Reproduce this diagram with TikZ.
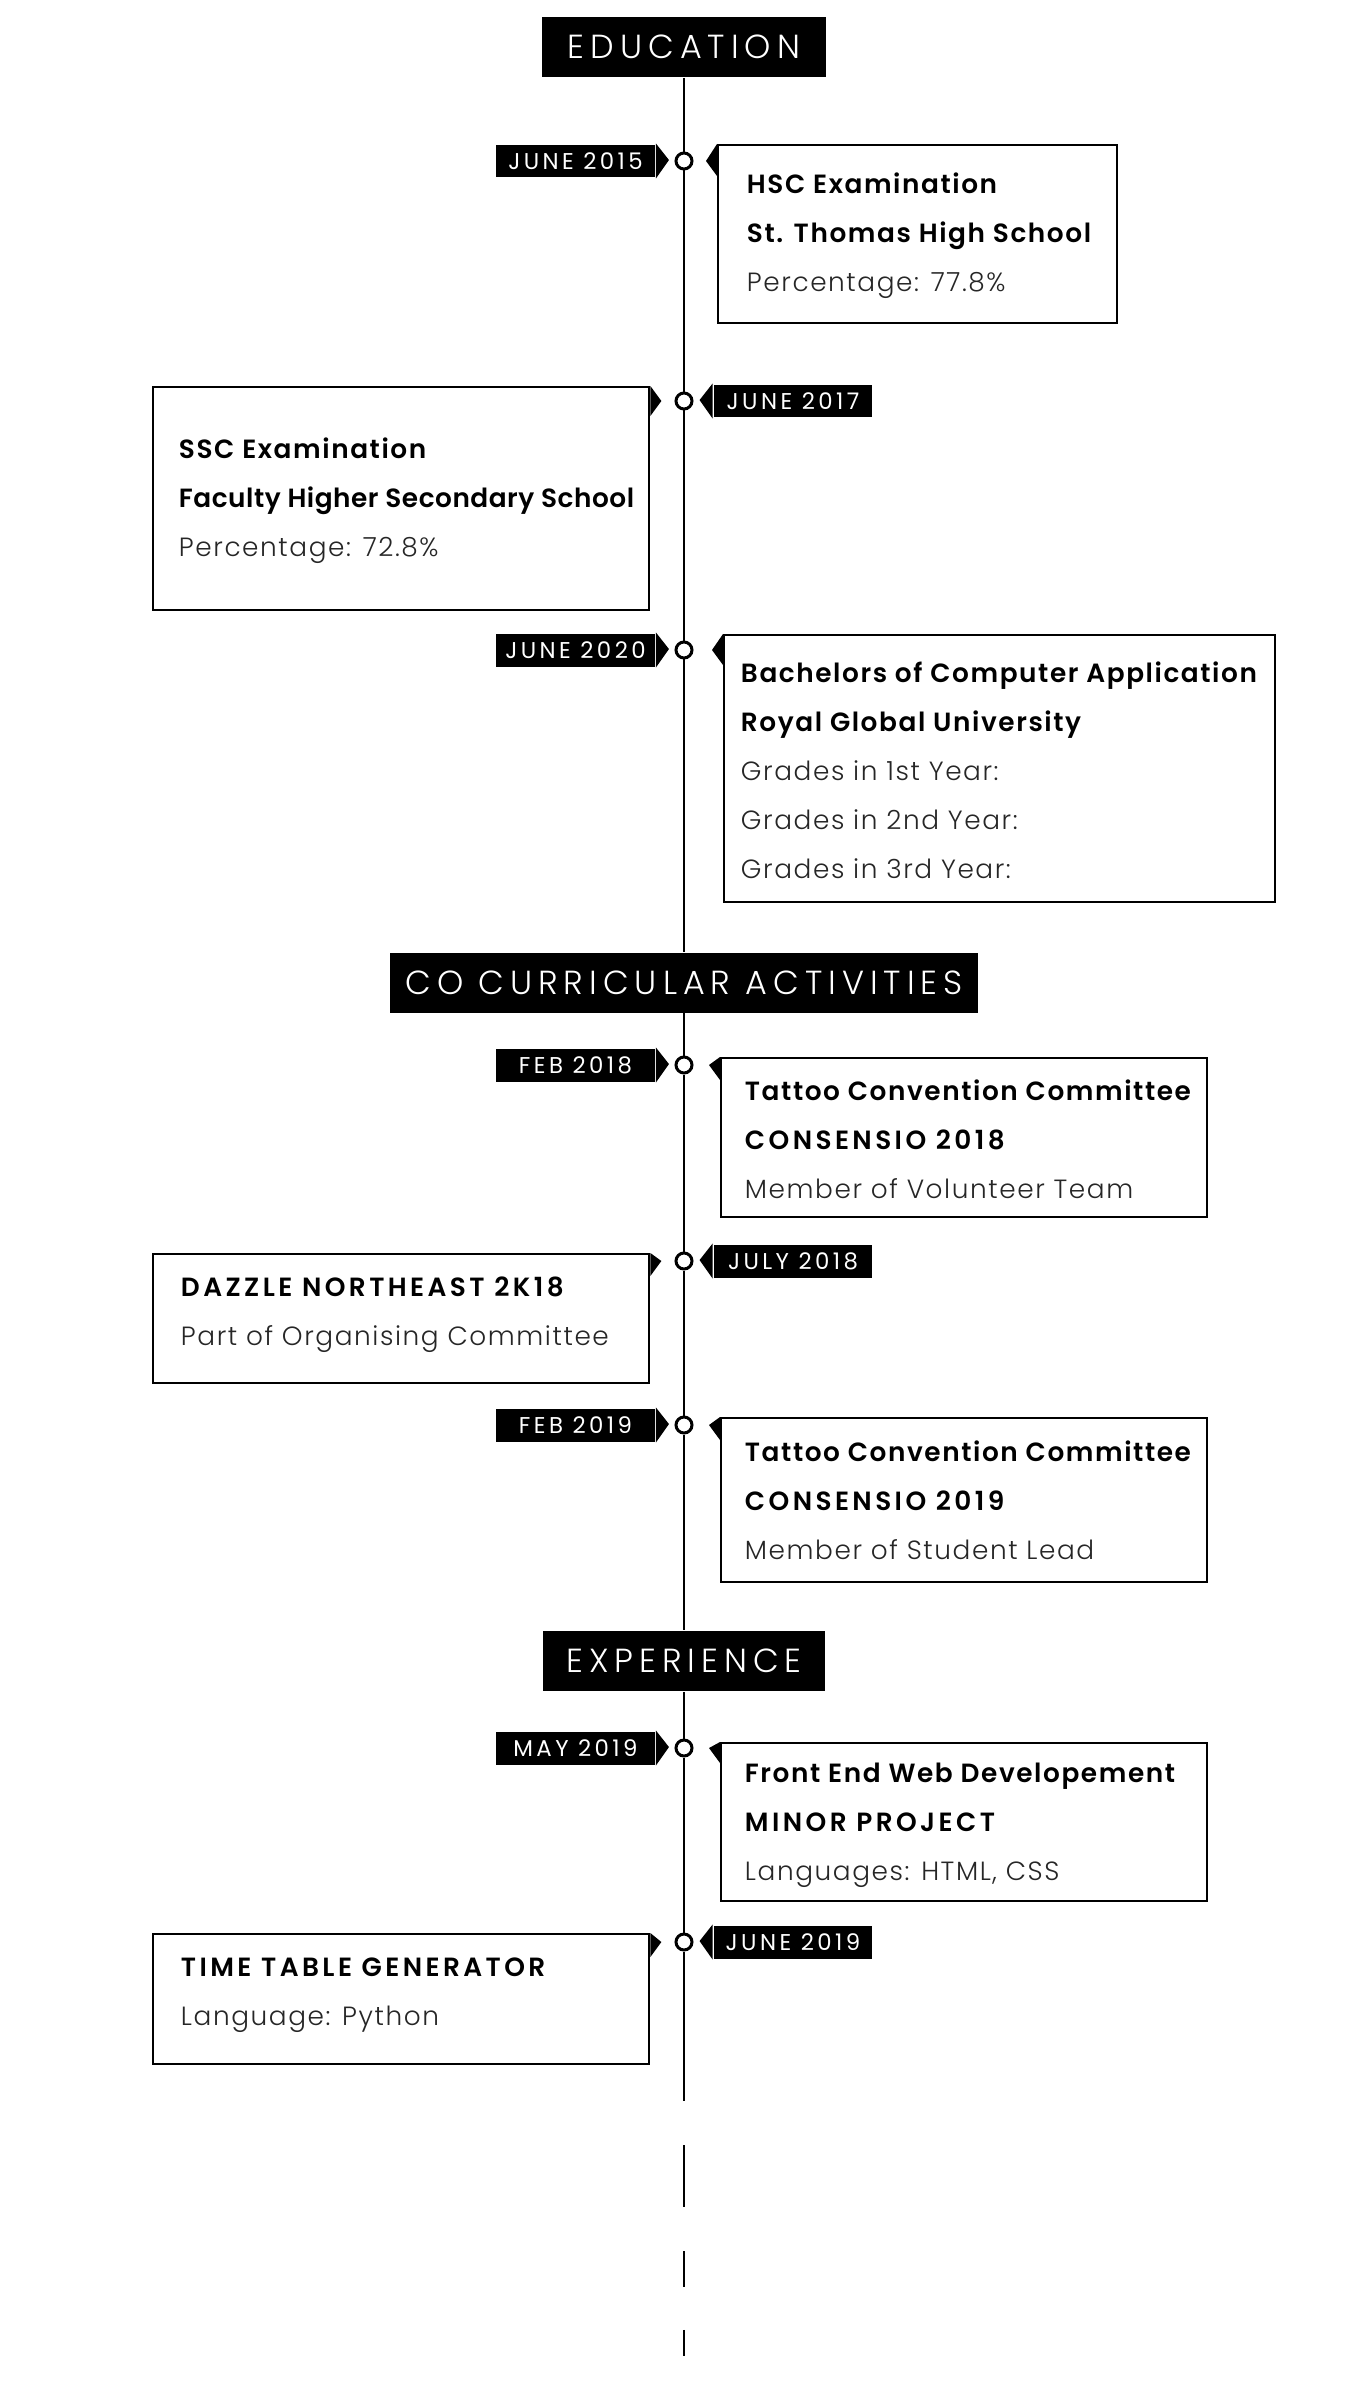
\documentclass[tikz,border=0pt]{standalone}
\usepackage{fontspec}
\setmainfont{Poppins}[UprightFont={* Light},BoldFont={* SemiBold}]
\newfontfamily\tagfont{Poppins}
\usetikzlibrary{calc}
\newcommand\lite[1]{{\color{black!85}#1}}
\newcommand\wide[1]{{\addfontfeatures{LetterSpace=13}#1}}
\newcommand\narrow[1]{{\addfontfeatures{LetterSpace=2}#1}}

\begin{document}
\begin{tikzpicture}[x=0.02cm,y=-0.02cm,line width=1.1pt,
	header/.style={fill=black,text=white,minimum height=1.2cm,inner sep=0pt,
		font=\fontsize{19}{21}\selectfont\addfontfeatures{LetterSpace=18}},
	datetag/.style={fill=black,text=white,minimum width=3.18cm,minimum height=0.66cm,inner sep=0pt,
		font=\tagfont\fontsize{13}{15}\selectfont\addfontfeatures{LetterSpace=15}},
	dot/.style={draw,circle,fill=white,minimum size=0.32cm,inner sep=0pt,line width=1.7pt},
	card/.style={draw,line width=1.4pt,inner sep=0pt,anchor=north west},
	info/.style={anchor=west,align=left,inner sep=0pt,
		font=\fontsize{15}{27.9}\selectfont\addfontfeatures{LetterSpace=6}}]
			\useasboundingbox (0,0) rectangle (1366,2406);
			\node [header,minimum width=5.68cm] (edu) at (684,47) {EDUCATION};
			\node [header,minimum width=11.78cm] (cca) at (684,982.5) {CO CURRICULAR ACTIVITIES};
			\node [header,minimum width=5.66cm] (exp) at (684,1661) {EXPERIENCE};
			\node [dot] (c1) at (684,161) {};
			\node [dot] (c2) at (684,401) {};
			\node [dot] (c3) at (684,650) {};
			\node [dot] (c4) at (684,1065) {};
			\node [dot] (c5) at (684,1261) {};
			\node [dot] (c6) at (684,1425) {};
			\node [dot] (c7) at (684,1748) {};
			\node [dot] (c8) at (684,1942) {};
			\coordinate (t0) at (684,2101);
			\coordinate (t1) at (684,2145);
			\coordinate (t2) at (684,2360);
			\draw (edu) -- (c1) -- (c2) -- (c3) -- (cca) -- (c4) -- (c5) -- (c6) -- (exp) -- (c7) -- (c8) -- (t0);
			\draw [dash pattern=on 1.24cm off 0.88cm on 0.72cm off 0.86cm on 0.52cm off 2cm] (t1) -- (t2);
			\node [datetag] (d1) at (575.5,161) {JUNE 2015};
			\node [datetag] (d2) at (793,401) {JUNE 2017};
			\node [datetag] (d3) at (575.5,650) {JUNE 2020};
			\node [datetag] (d4) at (575.5,1065) {FEB 2018};
			\node [datetag] (d5) at (793,1261) {JULY 2018};
			\node [datetag] (d6) at (575.5,1425) {FEB 2019};
			\node [datetag] (d7) at (575.5,1748) {MAY 2019};
			\node [datetag] (d8) at (793,1942) {JUNE 2019};
			\foreach \d in {d1,d3,d4,d6,d7}
				\fill (\d.north east) -- ++(13,16.5) -- (\d.south east) -- cycle;
			\foreach \d in {d2,d5,d8}
				\fill (\d.north west) -- ++(-13,16.5) -- (\d.south west) -- cycle;
			\node [card,minimum width=7.98cm,minimum height=3.56cm] (hsc) at (717,144) {};
			\node [card,minimum width=9.92cm,minimum height=4.46cm] (ssc) at (152,386) {};
			\node [card,minimum width=11.02cm,minimum height=5.34cm] (bca) at (723,634) {};
			\node [card,minimum width=9.72cm,minimum height=3.18cm] (tca) at (720,1057) {};
			\node [card,minimum width=9.92cm,minimum height=2.58cm] (daz) at (152,1253) {};
			\node [card,minimum width=9.72cm,minimum height=3.28cm] (tcb) at (720,1417) {};
			\node [card,minimum width=9.72cm,minimum height=3.16cm] (web) at (720,1742) {};
			\node [card,minimum width=9.92cm,minimum height=2.60cm] (ttg) at (152,1933) {};
			\foreach \b/\c in {hsc/c1,bca/c3,tca/c4,tcb/c6,web/c7}
				\fill (\b.north west) -- ($(\b.north west |- \c)+(-11,0)$) -- ($(\b.north west |- \c)+(0,15)$) -- cycle;
			\foreach \b/\c in {ssc/c2,daz/c5,ttg/c8}
				\fill (\b.north east) -- ($(\b.north east |- \c)+(11,0)$) -- ($(\b.north east |- \c)+(0,15)$) -- cycle;
			\node [info] (hsct) at (746,236) {\textbf{HSC Examination}\\ \textbf{St. Thomas High School}\\ \lite{Percentage: 77.8\%}};
			\node [info] (ssct) at (178,500.5) {\textbf{SSC Examination}\\ \textbf{\narrow{Faculty Higher Secondary School}}\\ \lite{Percentage: 72.8\%}};
			\node [info] (bcat) at (740,770.5) {\textbf{Bachelors of Computer Application}\\ \textbf{Royal Global University}\\
				\lite{Grades in 1st Year:}\\ \lite{Grades in 2nd Year:}\\ \lite{Grades in 3rd Year:}};
			\node [info] (tcat) at (744,1139) {\textbf{Tattoo Convention Committee}\\ \textbf{\wide{CONSENSIO 2018}}\\ \lite{Member of Volunteer Team}};
			\node [info] (dazt) at (180,1315) {\textbf{\wide{DAZZLE NORTHEAST 2K18}}\\ \lite{Part of Organising Committee}};
			\node [info] (tcbt) at (744,1500) {\textbf{Tattoo Convention Committee}\\ \textbf{\wide{CONSENSIO 2019}}\\ \lite{Member of Student Lead}};
			\node [info] (webt) at (744,1825) {\textbf{Front End Web Developement}\\ \textbf{\wide{MINOR PROJECT}}\\ \lite{Languages: HTML, CSS}};
			\node [info] (ttgt) at (180,1995) {\textbf{\wide{TIME TABLE GENERATOR}}\\ \lite{Language: Python}};
		\end{tikzpicture}
\end{document}
